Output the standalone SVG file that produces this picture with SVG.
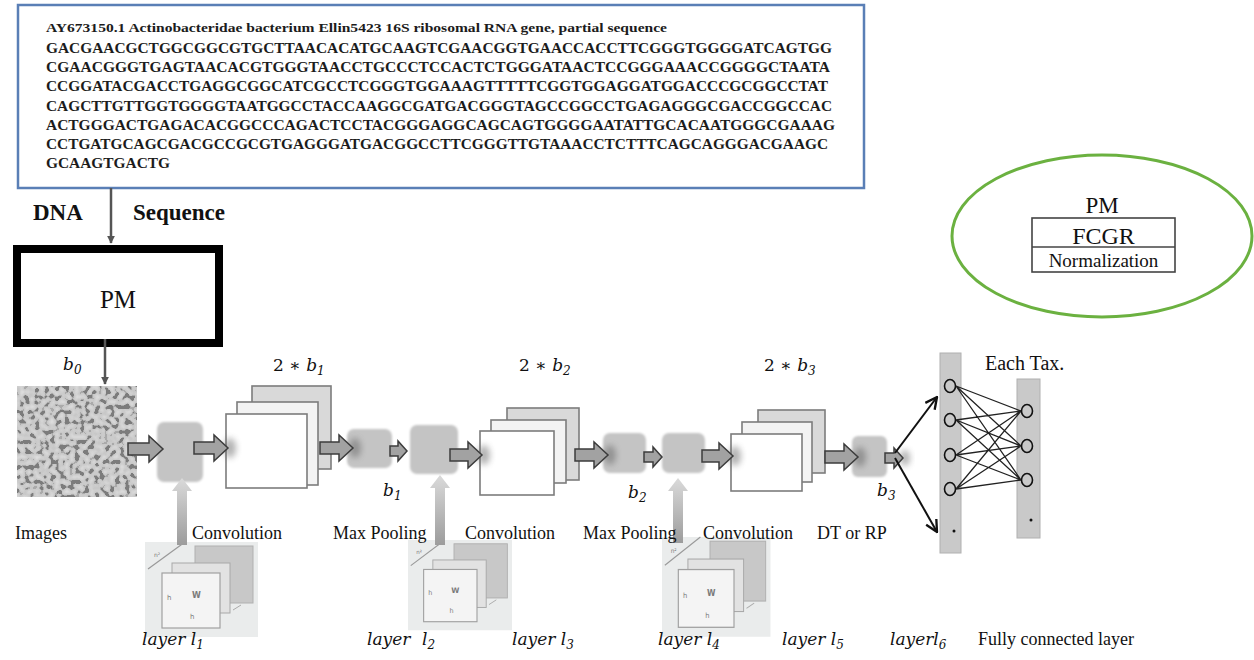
<svg xmlns="http://www.w3.org/2000/svg" width="1254" height="660" viewBox="0 0 1254 660">
<style>
.seq{font-family:"Liberation Serif",serif;font-weight:bold;font-size:15px;fill:#1c1c1c}
.hd{font-family:"Liberation Serif",serif;font-weight:bold;font-size:12.5px;fill:#1c1c1c}
.big{font-family:"Liberation Serif",serif;font-weight:bold;font-size:23px;fill:#111}
.lbl{font-family:"Liberation Serif",serif;font-size:18px;fill:#111}
.pm{font-family:"Liberation Serif",serif;font-size:25px;fill:#111}
.pm23{font-family:"Liberation Serif",serif;font-size:23px;fill:#111}
.fcgr{font-family:"Liberation Serif",serif;font-size:24px;fill:#111}
.norm{font-family:"Liberation Serif",serif;font-size:19px;fill:#111}
.tax{font-family:"Liberation Serif",serif;font-size:20px;fill:#111}
.math{font-family:"DejaVu Serif",serif;font-style:italic;font-size:17px;fill:#111}
.up2{font-family:"DejaVu Serif",serif;font-size:17px;fill:#111}
.sub{font-size:12px}
.blk{fill:#c4c4c4;filter:url(#soft)}
.fat{fill:#a2a2a2;stroke:#3c3c3c;stroke-width:1.5;stroke-linejoin:miter}
.map{stroke:#7c7c7c;stroke-width:1.6}
.up{fill:url(#upg)}
.thin{stroke:#555;stroke-width:2.5}
.fc{stroke:#222;stroke-width:1.3;fill:none}
.node{fill:none;stroke:#111;stroke-width:1.6}
.col{fill:#c9c9c9;stroke:#b0b0b0;stroke-width:1}
.tiny{font-family:"DejaVu Sans",sans-serif;fill:#7a7a7a}
.shadow{fill:#555;opacity:.45;filter:url(#blur3)}
</style>
<defs>
<filter id="soft" x="-20%" y="-20%" width="140%" height="140%"><feGaussianBlur stdDeviation="1.3"/></filter>
<filter id="blur3" x="-50%" y="-50%" width="200%" height="200%"><feGaussianBlur stdDeviation="3"/></filter>
<filter id="noise" x="0" y="0" width="100%" height="100%">
<feTurbulence type="fractalNoise" baseFrequency="0.2" numOctaves="1" seed="5"/>
<feColorMatrix type="matrix" values="1 0 0 0 0 1 0 0 0 0 1 0 0 0 0 0 0 0 0 1"/>
<feComponentTransfer>
<feFuncR type="discrete" tableValues="0.2 0.2 0.2 0.2 0.2 0.2 0.2 0.2 0.4 0.58 0.6 0.62 0.64 0.66 0.68 0.7 0.72 0.72 0.72 0.72"/>
<feFuncG type="discrete" tableValues="0.2 0.2 0.2 0.2 0.2 0.2 0.2 0.2 0.4 0.58 0.6 0.62 0.64 0.66 0.68 0.7 0.72 0.72 0.72 0.72"/>
<feFuncB type="discrete" tableValues="0.2 0.2 0.2 0.2 0.2 0.2 0.2 0.2 0.4 0.58 0.6 0.62 0.64 0.66 0.68 0.7 0.72 0.72 0.72 0.72"/>
</feComponentTransfer>
<feGaussianBlur stdDeviation="0.5"/>
</filter>
<linearGradient id="upg" x1="0" y1="0" x2="0" y2="1">
<stop offset="0" stop-color="#dadada"/><stop offset="1" stop-color="#9c9c9c"/>
</linearGradient>
<marker id="open" viewBox="0 0 12 12" refX="11" refY="6" markerWidth="14" markerHeight="14" markerUnits="userSpaceOnUse" orient="auto">
<path d="M1,1 L11,6 L1,11" fill="none" stroke="#111" stroke-width="2"/>
</marker>
<marker id="tri" viewBox="0 0 10 10" refX="9" refY="5" markerWidth="8" markerHeight="8" markerUnits="userSpaceOnUse" orient="auto">
<path d="M0,0 L10,5 L0,10 Z" fill="#555"/>
</marker>
<g id="kern">
<rect width="113" height="95" fill="#eaecec"/>
<rect x="50" y="4" width="58" height="57" fill="#c8c8c8" stroke="#b0b0b0"/>
<rect x="27" y="21" width="58" height="50" fill="#e2e2e2" stroke="#a8a8a8"/>
<rect x="17" y="31" width="58" height="55" fill="#f4f4f4" stroke="#a0a0a0" stroke-width="1.2"/>
<line x1="3" y1="27" x2="40" y2="0" stroke="#999" stroke-width="1.2"/>
<text class="tiny" x="9" y="15" font-size="6">n²</text>
<text class="tiny" x="22" y="58" font-size="7">h</text>
<text class="tiny" x="47" y="56" font-size="8" font-weight="bold">W</text>
<text class="tiny" x="45" y="77" font-size="7">h</text>
<line x1="88" y1="68" x2="96" y2="63" stroke="#aaa"/>
</g>
</defs>
<rect width="1254" height="660" fill="#fff"/>

<g id="sequence-box">
<rect x="18" y="5" width="846" height="183" fill="#fff" stroke="#5a7fb6" stroke-width="2.5"/>
<text class="hd" x="46" y="32" textLength="621" lengthAdjust="spacingAndGlyphs">AY673150.1 Actinobacteridae bacterium Ellin5423 16S ribosomal RNA gene, partial sequence</text>
<text class="seq" x="46" y="53" textLength="786" lengthAdjust="spacingAndGlyphs">GACGAACGCTGGCGGCGTGCTTAACACATGCAAGTCGAACGGTGAACCACCTTCGGGTGGGGATCAGTGG</text>
<text class="seq" x="46" y="72.2" textLength="784" lengthAdjust="spacingAndGlyphs">CGAACGGGTGAGTAACACGTGGGTAACCTGCCCTCCACTCTGGGATAACTCCGGGAAACCGGGGCTAATA</text>
<text class="seq" x="46" y="91.3" textLength="782" lengthAdjust="spacingAndGlyphs">CCGGATACGACCTGAGGCGGCATCGCCTCGGGTGGAAAGTTTTTCGGTGGAGGATGGACCCGCGGCCTAT</text>
<text class="seq" x="46" y="110.5" textLength="786" lengthAdjust="spacingAndGlyphs">CAGCTTGTTGGTGGGGTAATGGCCTACCAAGGCGATGACGGGTAGCCGGCCTGAGAGGGCGACCGGCCAC</text>
<text class="seq" x="46" y="129.7" textLength="789" lengthAdjust="spacingAndGlyphs">ACTGGGACTGAGACACGGCCCAGACTCCTACGGGAGGCAGCAGTGGGGAATATTGCACAATGGGCGAAAG</text>
<text class="seq" x="46" y="148.8" textLength="782" lengthAdjust="spacingAndGlyphs">CCTGATGCAGCGACGCCGCGTGAGGGATGACGGCCTTCGGGTTGTAAACCTCTTTCAGCAGGGACGAAGC</text>
<text class="seq" x="46" y="168" textLength="124" lengthAdjust="spacingAndGlyphs">GCAAGTGACTG</text>
</g>

<g id="dna-label">
<text class="big" x="33" y="220">DNA</text>
<text class="big" x="133" y="220">Sequence</text>
</g>

<g id="pm-box">
<rect x="17" y="249" width="202" height="94" fill="#fff" stroke="#000" stroke-width="8"/>
<text class="pm" x="118" y="308" text-anchor="middle">PM</text>
</g>

<g id="pm-legend">
<ellipse cx="1102" cy="236" rx="150" ry="81" fill="#fff" stroke="#6bb140" stroke-width="3"/>
<text class="pm23" x="1102" y="213" text-anchor="middle">PM</text>
<rect x="1032" y="218" width="143" height="54" fill="#fff" stroke="#444" stroke-width="1.6"/>
<line x1="1032" y1="247" x2="1175" y2="247" stroke="#444" stroke-width="1.6"/>
<text class="fcgr" x="1103.5" y="244" text-anchor="middle">FCGR</text>
<text class="norm" x="1103.5" y="267" text-anchor="middle">Normalization</text>
</g>

<g id="input-image">
<rect x="17" y="386" width="120" height="111" fill="#fff" filter="url(#noise)"/>
</g>

<g id="conv1"><rect class="blk" x="157" y="422" width="46" height="60" rx="7"/></g>
<g id="maps1">
<rect class="map" x="252" y="386" width="79" height="83" fill="#d9d9d9"/>
<rect class="map" x="237" y="402" width="81" height="83" fill="#f3f3f3"/>
<rect class="map" x="226" y="414" width="81" height="74" fill="#fff"/>
</g>
<g id="pool1"><rect class="blk" x="347" y="429" width="45" height="39" rx="7"/></g>
<g id="conv2"><rect class="blk" x="410" y="425" width="48" height="49" rx="7"/></g>
<g id="maps2">
<rect class="map" x="507" y="408" width="72" height="72" fill="#d9d9d9"/>
<rect class="map" x="491" y="420" width="75" height="63" fill="#f3f3f3"/>
<rect class="map" x="480" y="431" width="74" height="64" fill="#fff"/>
</g>
<g id="pool2"><rect class="blk" x="603" y="433" width="43" height="40" rx="7"/></g>
<g id="conv3"><rect class="blk" x="662" y="433" width="43" height="40" rx="7"/></g>
<g id="maps3">
<rect class="map" x="758" y="410" width="67" height="63" fill="#d9d9d9"/>
<rect class="map" x="742" y="422" width="70" height="60" fill="#f3f3f3"/>
<rect class="map" x="731" y="434" width="71" height="57" fill="#fff"/>
</g>
<g id="dtrp"><rect class="blk" x="852" y="436" width="35" height="41" rx="6"/></g>

<g id="fc-layer">
<rect class="col" x="940" y="353" width="21" height="200"/>
<rect class="col" x="1017" y="379" width="23" height="159"/>
<ellipse class="node" cx="950" cy="386" rx="5.5" ry="6.5"/>
<ellipse class="node" cx="950" cy="420" rx="5.5" ry="6.5"/>
<ellipse class="node" cx="950" cy="455" rx="5.5" ry="6.5"/>
<ellipse class="node" cx="950" cy="489" rx="5.5" ry="6.5"/>
<ellipse class="node" cx="1027" cy="411" rx="5.5" ry="6.5"/>
<ellipse class="node" cx="1027" cy="446" rx="5.5" ry="6.5"/>
<ellipse class="node" cx="1027" cy="480" rx="5.5" ry="6.5"/>
<circle cx="954" cy="531" r="1.5" fill="#111"/>
<circle cx="1031" cy="520" r="1.5" fill="#111"/>
</g>

<g id="kernel1"><use href="#kern" transform="translate(145,542)"/></g>
<g id="kernel2"><use href="#kern" transform="translate(408,540) scale(0.92,0.95)"/></g>
<g id="kernel3"><use href="#kern" transform="translate(662,537) scale(0.96,1.05)"/></g>

<g id="connectors">
<line class="thin" x1="111" y1="188" x2="111" y2="243" marker-end="url(#tri)"/>
<line class="thin" x1="105" y1="339" x2="105" y2="384" marker-end="url(#tri)"/>
<ellipse class="shadow" cx="230" cy="448" rx="6" ry="10"/>
<ellipse class="shadow" cx="355" cy="448" rx="6" ry="10"/>
<ellipse class="shadow" cx="484" cy="455" rx="6" ry="10"/>
<ellipse class="shadow" cx="610" cy="455" rx="6" ry="10"/>
<ellipse class="shadow" cx="735" cy="456" rx="6" ry="10"/>
<ellipse class="shadow" cx="860" cy="457" rx="6" ry="10"/>
<ellipse class="shadow" cx="905" cy="458" rx="5" ry="8"/>
<polygon class="fat" points="128,443 149,443 149,436 163,449 149,462 149,455 128,455"/>
<polygon class="fat" points="194,442 214,442 214,435 228,448 214,461 214,454 194,454"/>
<polygon class="fat" points="320,442 339,442 339,435 353,448 339,461 339,454 320,454"/>
<polygon class="fat" points="390,446 398,446 398,441 407,451 398,461 398,456 390,456"/>
<polygon class="fat" points="450,449 468,449 468,442 482,455 468,468 468,461 450,461"/>
<polygon class="fat" points="575,449 594,449 594,442 608,455 594,468 594,461 575,461"/>
<polygon class="fat" points="644,452 653,452 653,447 662,457 653,467 653,462 644,462"/>
<polygon class="fat" points="702,450 719,450 719,443 733,456 719,469 719,462 702,462"/>
<polygon class="fat" points="825,451 844,451 844,444 858,457 844,470 844,463 825,463"/>
<polygon class="fat" points="885,453 894,453 894,448 903,458 894,468 894,463 885,463"/>
<polygon class="up" points="177,545 177,491 172,491 182,478 192,491 187,491 187,545"/>
<polygon class="up" points="435,545 435,488 430,488 440,475 450,488 445,488 445,545"/>
<polygon class="up" points="673,543 673,491 668,491 678,478 688,491 683,491 683,543"/>
<line x1="895" y1="453" x2="937" y2="397" stroke="#111" stroke-width="2" marker-end="url(#open)"/>
<line x1="895" y1="458" x2="937" y2="532" stroke="#111" stroke-width="2" marker-end="url(#open)"/>
<path class="fc" d="M956,386 L1021,411 M956,386 L1021,446 M956,386 L1021,480 M956,420 L1021,411 M956,420 L1021,446 M956,420 L1021,480 M956,455 L1021,411 M956,455 L1021,446 M956,455 L1021,480 M956,489 L1021,411 M956,489 L1021,446 M956,489 L1021,480"/>
</g>

<g id="labels">
<text class="math" x="63" y="370">b<tspan class="sub" dy="4">0</tspan></text>
<text class="up2" x="273" y="371">2 ∗ <tspan font-style="italic">b</tspan><tspan class="sub" dy="4" font-style="italic">1</tspan></text>
<text class="up2" x="519" y="371">2 ∗ <tspan font-style="italic">b</tspan><tspan class="sub" dy="4" font-style="italic">2</tspan></text>
<text class="up2" x="764" y="371">2 ∗ <tspan font-style="italic">b</tspan><tspan class="sub" dy="4" font-style="italic">3</tspan></text>
<text class="math" x="383" y="496">b<tspan class="sub" dy="4">1</tspan></text>
<text class="math" x="628" y="498">b<tspan class="sub" dy="4">2</tspan></text>
<text class="math" x="877" y="496">b<tspan class="sub" dy="4">3</tspan></text>
<text class="tax" x="985" y="370">Each Tax.</text>
<text class="lbl" x="15" y="539">Images</text>
<text class="lbl" x="192" y="539">Convolution</text>
<text class="lbl" x="333" y="539">Max Pooling</text>
<text class="lbl" x="465" y="539">Convolution</text>
<text class="lbl" x="583" y="539">Max Pooling</text>
<text class="lbl" x="703" y="539">Convolution</text>
<text class="lbl" x="817" y="539">DT or RP</text>
<text class="math" x="142" y="645">layer <tspan>l</tspan><tspan class="sub" dy="4">1</tspan></text>
<text class="math" x="367" y="645">layer <tspan x="422">l</tspan><tspan class="sub" dy="4">2</tspan></text>
<text class="math" x="512" y="645">layer <tspan>l</tspan><tspan class="sub" dy="4">3</tspan></text>
<text class="math" x="658" y="645">layer <tspan>l</tspan><tspan class="sub" dy="4">4</tspan></text>
<text class="math" x="782" y="645">layer <tspan>l</tspan><tspan class="sub" dy="4">5</tspan></text>
<text class="math" x="890" y="645">layerl<tspan class="sub" dy="4">6</tspan></text>
<text class="lbl" x="978" y="645">Fully connected layer</text>
</g>
</svg>
